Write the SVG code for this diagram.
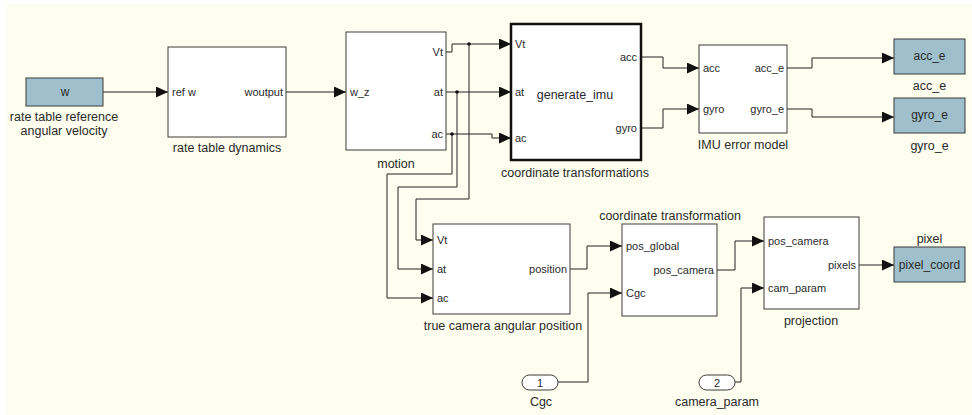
<svg xmlns="http://www.w3.org/2000/svg" width="972" height="415" viewBox="0 0 972 415">
  <defs>
    <marker id="arr" markerUnits="userSpaceOnUse" markerWidth="12" markerHeight="11" refX="12" refY="5.5" orient="auto">
      <path d="M0,0 L12,5.5 L0,11 z" fill="#111"/>
    </marker>
    <style>
      .blk { fill: #ffffff; stroke: #3a3a3a; stroke-width: 1; }
      .thick { stroke: #111; stroke-width: 2.5; }
      .io { fill: #9ebfcb; stroke: #3a3a3a; stroke-width: 1; }
      .port { fill: #ffffff; stroke: #3a3a3a; stroke-width: 1; }
      text { font-family: "Liberation Sans", Arial, sans-serif; fill: #2a2a2a; }
      .p { font-size: 11px; }
      .pr { font-size: 11px; text-anchor: end; }
      .lbl { font-size: 12.5px; text-anchor: middle; }
      .ctr { font-size: 12px; text-anchor: middle; }
      .wire { fill: none; stroke: #222; stroke-width: 1; }
      .arrw { marker-end: url(#arr); }
      .dot { fill: #111; }
    </style>
  </defs>

  <!-- canvas -->
  <rect x="0" y="0" width="972" height="415" fill="#ffffff"/>
  <rect x="7" y="4" width="965" height="411" fill="#fefef0"/>

  <!-- signal lines -->
  <g id="connectors">
    <path class="wire arrw" d="M103,92 H168"/>
    <path class="wire arrw" d="M286,92 H346"/>
    <path class="wire arrw" d="M446,52 H452 V44 H511"/>
    <path class="wire arrw" d="M446,92 H511"/>
    <path class="wire arrw" d="M446,134 H492 V138 H511"/>
    <path class="wire arrw" d="M469,44 V199 H416 V240 H433"/>
    <path class="wire arrw" d="M457,92 V187 H398 V269 H433"/>
    <path class="wire arrw" d="M452,134 V174 H387 V298 H433"/>
    <circle class="dot" cx="469" cy="44" r="1.8"/>
    <circle class="dot" cx="457" cy="92" r="1.8"/>
    <circle class="dot" cx="452" cy="134" r="1.8"/>
    <path class="wire arrw" d="M641,57 H663 V68 H699"/>
    <path class="wire arrw" d="M641,128 H663 V109 H699"/>
    <path class="wire arrw" d="M787,68 H812 V58 H894"/>
    <path class="wire arrw" d="M787,109 H812 V117 H894"/>
    <path class="wire arrw" d="M570,269 H587 V246 H622"/>
    <path class="wire arrw" d="M558,382 H588 V293 H622"/>
    <path class="wire arrw" d="M717,270 H735 V241 H764"/>
    <path class="wire arrw" d="M735,382 H741 V288 H764"/>
    <path class="wire arrw" d="M859,265 H894"/>
  </g>

  <!-- source: angular velocity -->
  <g id="w_source">
    <rect class="io" x="26" y="78" width="77" height="28"/>
    <text class="ctr" x="65" y="96">w</text>
    <text class="lbl" x="64" y="121">rate table reference</text>
    <text class="lbl" x="64" y="135">angular velocity</text>
  </g>

  <g id="rate_table_dynamics">
    <rect class="blk" x="168" y="47" width="118" height="90"/>
    <text class="p" x="172" y="96">ref w</text>
    <text class="pr" x="283" y="96">woutput</text>
    <text class="lbl" x="227" y="152">rate table dynamics</text>
  </g>

  <g id="motion">
    <rect class="blk" x="346" y="32" width="100" height="118"/>
    <text class="p" x="350" y="96">w_z</text>
    <text class="pr" x="443" y="56">Vt</text>
    <text class="pr" x="443" y="96">at</text>
    <text class="pr" x="443" y="138">ac</text>
    <text class="lbl" x="396" y="168">motion</text>
  </g>

  <g id="coordinate_transformations">
    <rect class="blk thick" x="511" y="24" width="130" height="136"/>
    <text class="p" x="515" y="48">Vt</text>
    <text class="p" x="515" y="96">at</text>
    <text class="p" x="515" y="142">ac</text>
    <text class="pr" x="637" y="61">acc</text>
    <text class="pr" x="637" y="132">gyro</text>
    <text class="ctr" x="575" y="99" style="font-size:12.5px">generate_imu</text>
    <text class="lbl" x="575" y="177">coordinate transformations</text>
  </g>

  <g id="imu_error_model">
    <rect class="blk" x="699" y="45" width="88" height="88"/>
    <text class="p" x="703" y="72">acc</text>
    <text class="p" x="703" y="113">gyro</text>
    <text class="pr" x="784" y="72">acc_e</text>
    <text class="pr" x="784" y="113">gyro_e</text>
    <text class="lbl" x="743" y="149">IMU error model</text>
  </g>

  <g id="acc_e_sink">
    <rect class="io" x="894" y="39" width="71" height="35"/>
    <text class="ctr" x="929.5" y="60">acc_e</text>
    <text class="lbl" x="929.5" y="90">acc_e</text>
  </g>

  <g id="gyro_e_sink">
    <rect class="io" x="894" y="98" width="71" height="35"/>
    <text class="ctr" x="929.5" y="119">gyro_e</text>
    <text class="lbl" x="929.5" y="150">gyro_e</text>
  </g>

  <g id="true_camera_angular_position">
    <rect class="blk" x="433" y="224" width="137" height="90"/>
    <text class="p" x="437" y="244">Vt</text>
    <text class="p" x="437" y="273">at</text>
    <text class="p" x="437" y="302">ac</text>
    <text class="pr" x="567" y="273">position</text>
    <text class="lbl" x="503" y="330">true camera angular position</text>
  </g>

  <g id="coordinate_transformation">
    <rect class="blk" x="622" y="224" width="95" height="92"/>
    <text class="p" x="626" y="250">pos_global</text>
    <text class="p" x="626" y="297">Cgc</text>
    <text class="pr" x="714" y="274">pos_camera</text>
    <text class="lbl" x="670" y="220">coordinate transformation</text>
  </g>

  <g id="projection">
    <rect class="blk" x="764" y="217" width="95" height="92"/>
    <text class="p" x="768" y="245">pos_camera</text>
    <text class="p" x="768" y="292">cam_param</text>
    <text class="pr" x="856" y="269">pixels</text>
    <text class="lbl" x="811" y="325">projection</text>
  </g>

  <g id="pixel_sink">
    <rect class="io" x="894" y="247" width="71" height="35"/>
    <text class="ctr" x="929.5" y="269">pixel_coord</text>
    <text class="lbl" x="929.5" y="243">pixel</text>
  </g>

  <g id="inport_cgc">
    <rect class="port" x="522" y="375" width="36" height="15" rx="7.5"/>
    <text class="ctr" x="540" y="387" style="font-size:11px">1</text>
    <text class="lbl" x="541" y="406">Cgc</text>
  </g>

  <g id="inport_camera_param">
    <rect class="port" x="699" y="375" width="36" height="15" rx="7.5"/>
    <text class="ctr" x="717" y="387" style="font-size:11px">2</text>
    <text class="lbl" x="717" y="406">camera_param</text>
  </g>
</svg>
